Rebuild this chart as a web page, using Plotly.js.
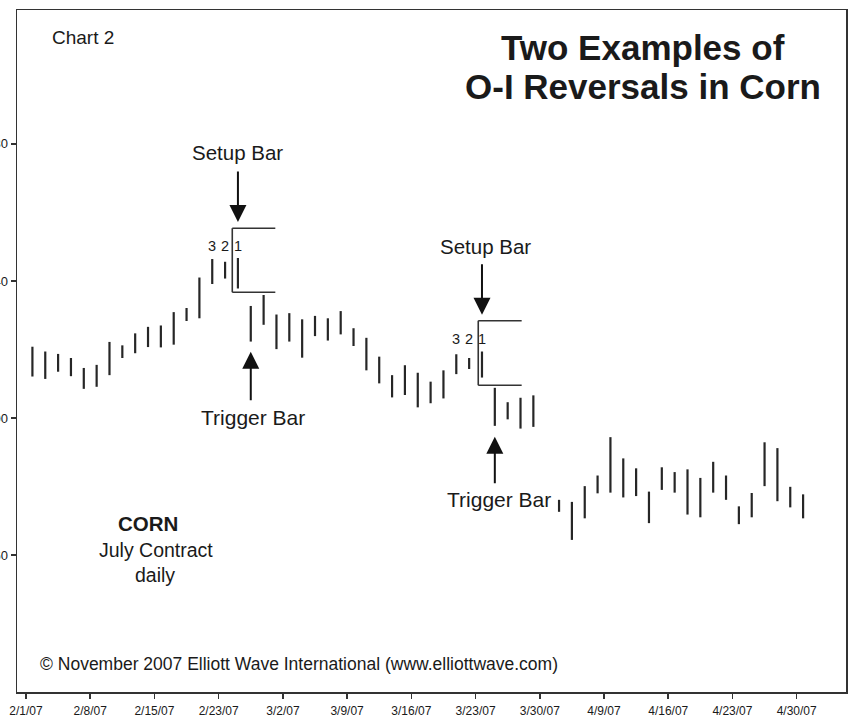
<!DOCTYPE html>
<html>
<head>
<meta charset="utf-8">
<script src="https://cdn.plot.ly/plotly-3.0.1.min.js"></script>
<style>html,body{margin:0;padding:0;background:#fff;}#chart{width:851px;height:717px;}</style>
</head>
<body>
<div id="chart"></div>
<script>
// Daily high / low of July 2007 corn (cents), one entry per trading session (null = not shown)
const highs = [420.8, 419.4, 418.7, 417.5, 414.6, 415.5, 422.2, 421.2, 424.7, 426.6,
  427.0, 430.9, 432.1, 441.0, 446.4, 445.6, 446.7, 432.7, 435.9, 430.2,
  430.6, 428.8, 429.8, 429.1, 431.2, 426.2, 423.4, 417.9, 412.5, 415.4,
  413.2, 410.6, 413.9, 418.6, 417.5, 419.4, 408.8, 404.6, 405.9, 406.6,
  null, 376.1, 375.5, 380.1, 383.2, 394.4, 388.2, 385.3, 378.5, 385.6,
  384.2, 385.0, 382.5, 387.2, 383.2, 374.2, 378.1, 392.9, 391.2, 379.9, 377.7];
const lows = [412.1, 411.4, 413.5, 412.2, 408.5, 409.1, 412.5, 417.5, 418.9, 420.7,
  420.6, 421.4, 428.3, 429.1, 439.1, 440.7, 437.8, 422.3, 427.2, 420.1,
  422.3, 417.6, 423.9, 422.6, 424.4, 421.0, 413.9, 410.1, 406.0, 406.7,
  403.1, 404.3, 405.7, 412.8, 414.3, 411.8, 397.7, 399.6, 396.9, 397.4,
  null, 372.6, 364.4, 370.7, 378.0, 378.2, 376.8, 377.2, 369.3, 379.0,
  378.2, 371.8, 371.0, 378.2, 376.1, 369.0, 371.0, 380.1, 375.7, 373.9, 370.7];
const tickLabels = ["2/1/07", "2/8/07", "2/15/07", "2/23/07", "3/2/07", "3/9/07", "3/16/07",
  "3/23/07", "3/30/07", "4/9/07", "4/16/07", "4/23/07", "4/30/07"];
const yTickVals = [360, 400, 440, 480];
// setup bars (session index) for the two O-I reversal examples
const setupIdx = [16, 35];
const triggerIdx = [17, 36];

const xs = [], hi = [], lo = [];
highs.forEach((h, i) => {
  if (h !== null && lows[i] !== null) { xs.push(i); hi.push(h); lo.push(lows[i]); }
});

const barColor = '#262626';
const trace = {
  type: 'ohlc', x: xs, open: lo, high: hi, low: lo, close: lo,
  tickwidth: 0,
  increasing: {line: {color: barColor, width: 2.2}},
  decreasing: {line: {color: barColor, width: 2.2}},
  line: {width: 2.2},
  hoverinfo: 'skip', showlegend: false
};

const F = 'Liberation Sans, Arial, Helvetica, sans-serif';
const txtCol = '#1a1a1a';
const ann = [];
function paperText(text, x, y, size, opts) {
  ann.push(Object.assign({xref: 'paper', yref: 'paper', x: x, y: y, text: text, showarrow: false,
    xanchor: 'center', yanchor: 'middle', font: {family: F, size: size, color: txtCol}}, opts || {}));
}
function dataText(text, x, y, size, opts) {
  ann.push(Object.assign({xref: 'x', yref: 'y', x: x, y: y, text: text, showarrow: false,
    xanchor: 'center', yanchor: 'middle', font: {family: F, size: size, color: txtCol}}, opts || {}));
}
function arrow(x, y, ay) {
  ann.push({xref: 'x', yref: 'y', x: x, y: y, ax: 0, ay: ay, text: '', showarrow: true,
    arrowhead: 2, arrowsize: 1.7, arrowwidth: 2, arrowcolor: '#111'});
}

paperText('Chart 2', 0.0398, 0.959, 19, {xanchor: 'left'});
paperText('<b>Two Examples of</b>', 0.7551, 0.9457, 35);
paperText('<b>O-I Reversals in Corn</b>', 0.7551, 0.8871, 35);
paperText('<b>CORN</b>', 0.158, 0.2478, 20.5);
paperText('July Contract', 0.1677, 0.2082, 19.5);
paperText('daily', 0.1665, 0.1716, 19.5);
paperText('© November 2007 Elliott Wave International (www.elliottwave.com)', 0.0253, 0.0411, 17.5, {xanchor: 'left'});

// example 1
dataText('Setup Bar', setupIdx[0], 477.4, 20.5);
arrow(setupIdx[0], 457.2, -52);
dataText('Trigger Bar', triggerIdx[0] + 0.17, 400.0, 21);
arrow(triggerIdx[0], 419.3, 50);
dataText('3', setupIdx[0] - 2, 450.2, 14.5);
dataText('2', setupIdx[0] - 1, 450.2, 14.5);
dataText('1', setupIdx[0], 450.2, 14.5);
// example 2
dataText('Setup Bar', setupIdx[1] + 0.24, 450.2, 20.5);
arrow(setupIdx[1], 430.1, -52);
dataText('Trigger Bar', triggerIdx[1] + 0.33, 376.1, 21, {bgcolor: '#ffffff'});
arrow(triggerIdx[1], 394.5, 48);
dataText('3', setupIdx[1] - 2, 423.1, 14.5);
dataText('2', setupIdx[1] - 1, 423.1, 14.5);
dataText('1', setupIdx[1], 423.1, 14.5);

const shapes = [];
function bracket(x0, x1, yTop, yBot) {
  const ln = {color: '#333', width: 1.6};
  shapes.push({type: 'line', xref: 'x', yref: 'y', x0: x0, x1: x0, y0: yBot, y1: yTop, line: ln});
  shapes.push({type: 'line', xref: 'x', yref: 'y', x0: x0, x1: x1, y0: yTop, y1: yTop, line: ln});
  shapes.push({type: 'line', xref: 'x', yref: 'y', x0: x0, x1: x1, y0: yBot, y1: yBot, line: ln});
}
bracket(setupIdx[0] - 0.44, setupIdx[0] + 2.91, 455.4, 436.7);
bracket(setupIdx[1] - 0.29, setupIdx[1] + 3.09, 428.4, 409.55);

const layout = {
  width: 851, height: 717,
  margin: {l: 17, r: 5, t: 10, b: 25, pad: 0},
  paper_bgcolor: '#ffffff', plot_bgcolor: '#ffffff',
  showlegend: false,
  font: {family: F, color: txtCol},
  xaxis: {
    type: 'linear', range: [-1.2, 63.34], rangeslider: {visible: false},
    tickmode: 'array', tickvals: tickLabels.map((_, k) => -0.5 + 5 * k), ticktext: tickLabels,
    ticks: 'outside', ticklen: 5, tickwidth: 1.5, tickcolor: '#333',
    showgrid: false, zeroline: false, showline: true, mirror: true, linecolor: '#333', linewidth: 1.5,
    tickfont: {family: F, size: 12, color: txtCol}, ticklabelstandoff: 2, fixedrange: true
  },
  yaxis: {
    range: [320, 519.1], tickmode: 'array', tickvals: yTickVals, ticktext: yTickVals.map(String),
    ticks: 'outside', ticklen: 5, tickwidth: 1.5, tickcolor: '#333',
    showgrid: false, zeroline: false, showline: true, mirror: true, linecolor: '#333', linewidth: 1.5,
    tickfont: {family: F, size: 13, color: txtCol}, fixedrange: true
  },
  annotations: ann,
  shapes: shapes
};

Plotly.newPlot('chart', [trace], layout, {displayModeBar: false, staticPlot: true});
</script>
</body>
</html>
